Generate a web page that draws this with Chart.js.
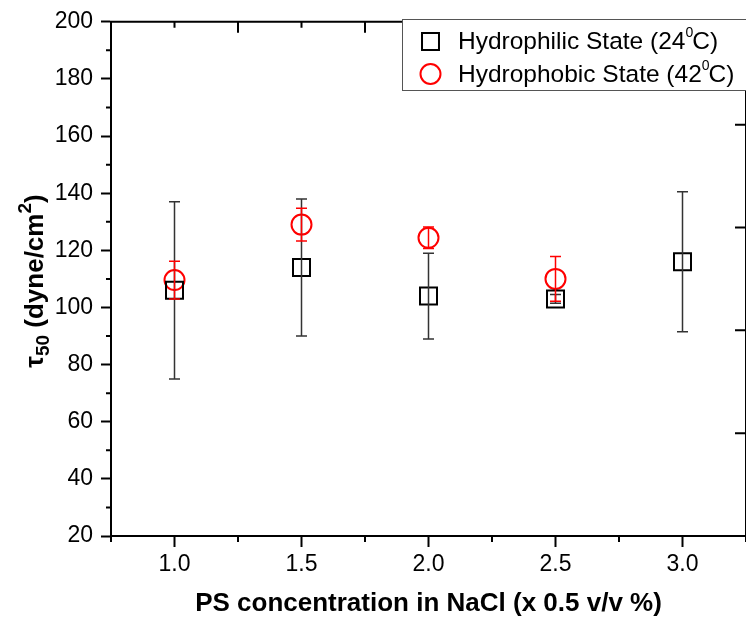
<!DOCTYPE html>
<html>
<head>
<meta charset="utf-8">
<script src="https://cdn.jsdelivr.net/npm/chart.js@4/dist/chart.umd.min.js"></script>
<style>
  html, body { margin: 0; padding: 0; overflow: hidden; background: #fff; }
  #wrap { width: 760px; height: 619px; }
</style>
</head>
<body>
<div id="wrap"><canvas id="tauChart"></canvas></div>
<script>
// PS concentration in NaCl (x 0.5 v/v %)
const concentrations = [1.0, 1.5, 2.0, 2.5, 3.0];
const xTickValues = [1.0, 1.5, 2.0, 2.5, 3.0];

// tau50 (dyne/cm2) - hydrophilic state, 24 C
const hydrophilicMean = [106, 114, 104, 103, 116];
const hydrophilicErr = [31, 24, 15, 1.5, 24.5];

// tau50 (dyne/cm2) - hydrophobic state, 42 C (nothing measured at 3.0)
const hydrophobicMean = [109.6, 129, 124.4, 110, null];
const hydrophobicErr = [6.6, 5.7, 3.8, 7.8, null];

const FONT = "'Liberation Sans', Arial, sans-serif";
Chart.defaults.font.family = FONT;
Chart.defaults.color = '#000';

function toPoints(means, errs) {
  return concentrations
    .map((x, i) => ({ x: x, y: means[i], err: errs[i] }))
    .filter(p => p.y !== null);
}

// vertical error bars with caps, drawn through the chart scales
const errorBars = {
  id: 'errorBars',
  afterDatasetsDraw(chart) {
    const ctx = chart.ctx;
    const xs = chart.scales.x, ys = chart.scales.y;
    chart.data.datasets.forEach(ds => {
      ctx.save();
      ctx.strokeStyle = ds.errorColor;
      ctx.lineWidth = 1.5;
      ds.data.forEach(p => {
        const px = xs.getPixelForValue(p.x);
        const top = ys.getPixelForValue(p.y + p.err);
        const bot = ys.getPixelForValue(p.y - p.err);
        ctx.beginPath();
        ctx.moveTo(px, top); ctx.lineTo(px, bot);
        ctx.moveTo(px - 5.5, top); ctx.lineTo(px + 5.5, top);
        ctx.moveTo(px - 5.5, bot); ctx.lineTo(px + 5.5, bot);
        ctx.stroke();
      });
      ctx.restore();
    });
  }
};

// frame: top line, minor ticks, top and right axis ticks (Origin style)
const frame = {
  id: 'frame',
  afterDraw(chart) {
    const ctx = chart.ctx;
    const a = chart.chartArea;
    const xs = chart.scales.x, ys = chart.scales.y, y2 = chart.scales.y2;
    ctx.save();
    ctx.strokeStyle = '#000';
    ctx.lineWidth = 2;
    ctx.beginPath();
    ctx.moveTo(a.left - 1, a.top); ctx.lineTo(a.right + 1, a.top);
    ctx.moveTo(a.right, a.top); ctx.lineTo(a.right, a.bottom);
    ctx.stroke();

    ctx.beginPath();
    // left minor ticks (outward)
    for (let v = 30; v < 200; v += 20) {
      const py = ys.getPixelForValue(v);
      ctx.moveTo(a.left - 5, py); ctx.lineTo(a.left, py);
    }
    // bottom minor ticks (outward) and top ticks (inward)
    for (let v = 0.75; v <= 3.25; v += 0.5) {
      const px = xs.getPixelForValue(v);
      ctx.moveTo(px, a.bottom); ctx.lineTo(px, a.bottom + 6);
      ctx.moveTo(px, a.top); ctx.lineTo(px, a.top + 11);
    }
    for (let v = 1.0; v <= 3.0; v += 0.5) {
      const px = xs.getPixelForValue(v);
      ctx.moveTo(px, a.top); ctx.lineTo(px, a.top + 6);
    }
    // right axis ticks (inward)
    for (let v = 0; v <= 5; v += 1) {
      const py = y2.getPixelForValue(v);
      ctx.moveTo(a.right - 11, py); ctx.lineTo(a.right, py);
    }
    ctx.stroke();
    ctx.restore();
  }
};

// rotated y title with subscript and superscript
const yTitle = {
  id: 'yTitle',
  afterDraw(chart) {
    const ctx = chart.ctx;
    const parts = [
      { t: '\u03C4', size: 26, dy: 0 },
      { t: '50', size: 19, dy: 6 },
      { t: ' (dyne/cm', size: 26, dy: 0 },
      { t: '2', size: 19, dy: -12 },
      { t: ')', size: 26, dy: 0 }
    ];
    ctx.save();
    ctx.translate(43, 281);
    ctx.rotate(-Math.PI / 2);
    ctx.fillStyle = '#000';
    ctx.textBaseline = 'alphabetic';
    let total = 0;
    parts.forEach(p => { ctx.font = 'bold ' + p.size + 'px ' + FONT; p.w = ctx.measureText(p.t).width; total += p.w; });
    let x = -total / 2;
    parts.forEach(p => {
      ctx.font = 'bold ' + p.size + 'px ' + FONT;
      ctx.fillText(p.t, x, p.dy);
      x += p.w;
    });
    ctx.restore();
  }
};

// boxed legend with superscript degree zero
const boxLegend = {
  id: 'boxLegend',
  afterDraw(chart) {
    const ctx = chart.ctx;
    const rows = [
      { ds: chart.data.datasets[0], pre: 'Hydrophilic State (24', sup: '0', post: 'C)' },
      { ds: chart.data.datasets[1], pre: 'Hydrophobic State (42', sup: '0', post: 'C)' }
    ];
    ctx.save();
    ctx.fillStyle = '#fff';
    ctx.fillRect(402, 19, 360, 71);
    ctx.strokeStyle = '#555';
    ctx.lineWidth = 1;
    ctx.strokeRect(402.5, 19.5, 360, 71);
    rows.forEach((r, i) => {
      const base = 49 + i * 32.5;
      ctx.strokeStyle = r.ds.borderColor;
      ctx.fillStyle = 'rgba(0,0,0,0)';
      ctx.lineWidth = 2;
      Chart.helpers.drawPoint(ctx, {
        pointStyle: r.ds.pointStyle, radius: r.ds.pointRadius, rotation: 0, borderWidth: 2
      }, 430.5, base - 7.5);
      ctx.fillStyle = '#000';
      ctx.textBaseline = 'alphabetic';
      ctx.font = '24.5px ' + FONT;
      let x = 458;
      ctx.fillText(r.pre, x, base);
      x += ctx.measureText(r.pre).width;
      ctx.font = '14px ' + FONT;
      ctx.fillText(r.sup, x, base - 12);
      x += ctx.measureText(r.sup).width - 1;
      ctx.font = '24.5px ' + FONT;
      ctx.fillText(r.post, x, base);
    });
    ctx.restore();
  }
};

new Chart(document.getElementById('tauChart').getContext('2d'), {
  type: 'scatter',
  data: {
    datasets: [
      {
        label: 'Hydrophilic State (24\u2070C)',
        data: toPoints(hydrophilicMean, hydrophilicErr),
        pointStyle: 'rect',
        pointRadius: 12,
        borderColor: '#000',
        backgroundColor: 'rgba(0,0,0,0)',
        borderWidth: 2,
        errorColor: '#333'
      },
      {
        label: 'Hydrophobic State (42\u2070C)',
        data: toPoints(hydrophobicMean, hydrophobicErr),
        pointStyle: 'circle',
        pointRadius: 10,
        borderColor: '#ff0000',
        backgroundColor: 'rgba(0,0,0,0)',
        borderWidth: 2,
        errorColor: '#ff0000'
      }
    ]
  },
  options: {
    responsive: true,
    maintainAspectRatio: false,
    animation: false,
    layout: { padding: { top: 17, right: 8, left: 0, bottom: 0 } },
    plugins: {
      legend: { display: false },
      tooltip: { enabled: false }
    },
    scales: {
      x: {
        type: 'linear',
        min: 0.75,
        max: 3.25,
        afterBuildTicks: scale => { scale.ticks = xTickValues.map(v => ({ value: v })); },
        afterFit: scale => { scale.height = 83; },
        ticks: {
          autoSkip: false,
          maxRotation: 0,
          padding: 4,
          font: { size: 23 },
          callback: v => Number(v).toFixed(1)
        },
        grid: { drawOnChartArea: false, tickLength: 11, tickWidth: 2, tickColor: '#000' },
        border: { color: '#000', width: 2 },
        title: {
          display: true,
          text: 'PS concentration in NaCl (x 0.5 v/v %)',
          font: { size: 26, weight: 'bold' },
          padding: { top: 0, bottom: 0 }
        }
      },
      y: {
        min: 20,
        max: 200,
        afterFit: scale => { scale.width = 111; },
        ticks: { stepSize: 20, padding: 8, font: { size: 23 } },
        grid: { drawOnChartArea: false, tickLength: 10, tickWidth: 2, tickColor: '#000' },
        border: { color: '#000', width: 2 }
      },
      y2: {
        type: 'linear',
        position: 'right',
        min: 0,
        max: 5,
        display: false
      }
    }
  },
  plugins: [errorBars, frame, yTitle, boxLegend]
});
</script>
</body>
</html>
